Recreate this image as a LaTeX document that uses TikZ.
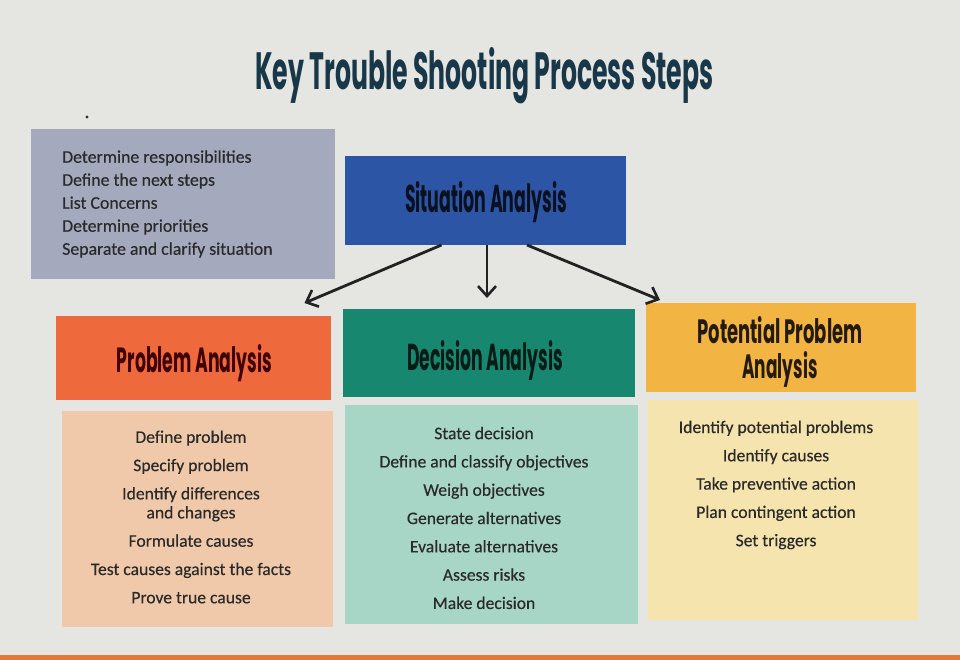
\documentclass[tikz,border=0pt]{standalone}
\usepackage{graphicx}
\usepackage{fontspec}
\setmainfont{Carlito}[FakeBold=0.35]
\newfontfamily\headfont{Poppins}
\usetikzlibrary{arrows.meta}
\definecolor{bgc}{HTML}{E5E5E1}
\definecolor{greyc}{HTML}{A4A9BE}
\definecolor{sitc}{HTML}{2D55A5}
\definecolor{probh}{HTML}{EE6A3C}
\definecolor{probb}{HTML}{F0C9AA}
\definecolor{dech}{HTML}{17876F}
\definecolor{decb}{HTML}{A8D6C6}
\definecolor{poth}{HTML}{F2B544}
\definecolor{potb}{HTML}{F5E4AE}
\definecolor{stripc}{HTML}{E2793A}
\definecolor{txtc}{HTML}{2A2A2A}
\definecolor{titlec}{HTML}{18384A}
\definecolor{arrc}{HTML}{222222}
\newcommand\hd[3]{\resizebox{#1pt}{#2pt}{\headfont\bfseries #3}}
\tikzset{
  panel/.style={inner sep=0pt, outer sep=0pt, draw=none},
  bodytext/.style={font=\fontsize{17.6}{28.3}\selectfont, text=txtc, align=center, inner sep=0pt},
  headtext/.style={inner sep=0pt, anchor=base},
  arr/.style={draw=arrc, line width=2.8pt, -{Straight Barb[length=10pt,width=18pt,line width=2.6pt]}}
}
\begin{document}
\begin{tikzpicture}[x=1pt,y=-1pt]
\useasboundingbox (0,0) rectangle (960,660);
\fill[bgc] (0,0) rectangle (960,660);
\fill[stripc] (0,655) rectangle (960,660);
\fill[black!80] (87,117) circle (1.6);

% title
\node[headtext, text=titlec] (title) at (484.5,90) {\hd{458}{42}{Key Trouble Shooting Process Steps}};

% situation list
\node[panel, fill=greyc, minimum width=304pt, minimum height=150pt] (grey) at (183,204) {};
\node[inner sep=0pt, anchor=west, align=left, text=txtc, font=\fontsize{17.8}{23}\selectfont] (greytxt) at (62,204)
  {Determine responsibilities\\Define the next steps\\List Concerns\\Determine priorities\\Separate and clarify situation};

% situation analysis
\node[panel, fill=sitc, minimum width=281pt, minimum height=89pt] (sit) at (485.5,200.5) {};
\node[headtext, text=black!80!sitc] (sittxt) at (486,213) {\hd{162}{31}{Situation Analysis}};

% problem analysis
\node[panel, fill=probh, minimum width=275pt, minimum height=84pt] (prob) at (193.5,358) {};
\node[headtext, text=black!75!red] (probtxt) at (194.5,372) {\hd{155}{28}{Problem Analysis}};
\node[panel, fill=probb, minimum width=271pt, minimum height=216pt] (probbody) at (197.5,519) {};
\node[bodytext] (probtext) at (191,517)
  {Define problem\\Specify problem\\Identify differences\\[-9.3pt]and changes\\Formulate causes\\Test causes against the facts\\Prove true cause};

% decision analysis
\node[panel, fill=dech, minimum width=292pt, minimum height=88pt] (dec) at (489,353) {};
\node[headtext, text=black!80!dech] (dectxt) at (485,370) {\hd{156}{30}{Decision Analysis}};
\node[panel, fill=decb, minimum width=293pt, minimum height=219pt] (decbody) at (491.5,514.5) {};
\node[bodytext] (dectext) at (484,518)
  {State decision\\Define and classify objectives\\Weigh objectives\\Generate alternatives\\Evaluate alternatives\\Assess risks\\Make decision};

% potential problem analysis
\node[panel, fill=poth, minimum width=270pt, minimum height=89pt] (pot) at (781,347.5) {};
\node[headtext, text=black!85!poth] (pottxt1) at (780,343) {\hd{165}{27}{Potential Problem}};
\node[headtext, text=black!85!poth] (pottxt2) at (780,378) {\hd{75}{27}{Analysis}};
\node[panel, fill=potb, minimum width=270pt, minimum height=220pt] (potbody) at (783,510) {};
\node[bodytext] (pottext) at (776,485)
  {Identify potential problems\\Identify causes\\Take preventive action\\Plan contingent action\\Set triggers};

% arrows
\draw[arr] ([xshift=-44pt]sit.south) -- ([xshift=111pt,yshift=13pt]prob.north);
\draw[arr] ([xshift=1.5pt]sit.south) -- ([xshift=-2pt,yshift=11pt]dec.north);
\draw[arr] ([xshift=41.5pt]sit.south) -- ([xshift=-121pt,yshift=3pt]pot.north);
\end{tikzpicture}
\end{document}
